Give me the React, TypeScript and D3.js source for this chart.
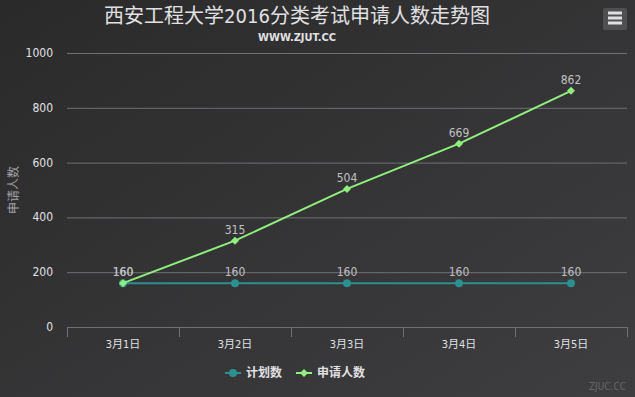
import React from 'react';
import * as d3 from 'd3';

const categories = ['3月1日', '3月2日', '3月3日', '3月4日', '3月5日'];
const planned = [160, 160, 160, 160, 160];
const applied = [160, 315, 504, 669, 862];
const yTicks = [0, 200, 400, 600, 800, 1000];

const W = 635;
const H = 397;
const margin = { left: 67, right: 8, top: 53, bottom: 70 };
const font = "'DejaVu Sans Condensed', 'Liberation Sans Narrow', 'Noto Sans CJK SC', sans-serif";

const App = () => {
  const x = d3
    .scaleBand()
    .domain(categories)
    .range([margin.left, W - margin.right]);
  const y = d3
    .scaleLinear()
    .domain([0, 1000])
    .range([H - margin.bottom, margin.top]);

  const px = (i) => x(categories[i]) + x.bandwidth() / 2;
  const line = d3
    .line<number>()
    .x((d, i) => px(i))
    .y((d) => y(d));

  // highcharts style diamond: a square turned 45 degrees
  const diamond = d3.symbol().type(d3.symbolSquare).size(32)();

  const series = [
    { name: '计划数', data: planned, color: '#2b908f', marker: 'circle' },
    { name: '申请人数', data: applied, color: '#90ee7e', marker: 'diamond' },
  ];

  const ticksX = [...categories.map((c) => x(c)), W - margin.right];

  return (
    <div style={{ position: 'fixed', left: 0, top: 0 }}>
      <svg width={W} height={H} style={{ display: 'block', fontFamily: font, fontStretch: 'condensed' }}>
        <defs>
          <linearGradient id="bg" x1="0" y1="0" x2="1" y2="1">
            <stop offset="0" stopColor="#2a2a2b" />
            <stop offset="1" stopColor="#3e3e40" />
          </linearGradient>
        </defs>
        <rect x={0} y={0} width={W} height={H} fill="url(#bg)" />

        {/* title */}
        <text x={297} y={23} textAnchor="middle" fill="#E0E0E3" fontSize={20}>
          西安工程大学2016分类考试申请人数走势图
        </text>
        <text x={297} y={41} textAnchor="middle" fill="#E0E0E3" fontSize={11} fontWeight="bold">
          WWW.ZJUT.CC
        </text>

        {/* menu button */}
        <rect x={603} y={8} width={24} height={22} rx={2} fill="#505053" />
        {[14, 19, 24].map((yy) => (
          <line key={yy} x1={608} x2={622} y1={yy - 1} y2={yy - 1} stroke="#E0E0E3" strokeWidth={3} />
        ))}

        {/* grid */}
        {yTicks.map((t) => (
          <g key={t}>
            <line x1={margin.left} x2={W - margin.right} y1={y(t) + 0.5} y2={y(t) + 0.5} stroke="#707073" strokeWidth={1} />
            <text x={53} y={y(t) + 4} textAnchor="end" fill="#E0E0E3" fontSize={12}>
              {t}
            </text>
          </g>
        ))}
        <text
          transform={`translate(18,${(y(0) + y(1000)) / 2}) rotate(-90)`}
          textAnchor="middle"
          fill="#A0A0A3"
          fontSize={12}
        >
          申请人数
        </text>

        {/* x axis */}
        <line x1={margin.left} x2={W - margin.right} y1={y(0) + 0.5} y2={y(0) + 0.5} stroke="#707073" />
        {ticksX.map((tx, i) => (
          <line key={i} x1={tx + 0.5} x2={tx + 0.5} y1={y(0)} y2={y(0) + 10} stroke="#707073" />
        ))}
        {categories.map((c, i) => (
          <text key={c} x={px(i)} y={348} textAnchor="middle" fill="#E0E0E3" fontSize={11}>
            {c}
          </text>
        ))}

        {/* series */}
        {series.map((s) => (
          <g key={s.name}>
            <path d={line(s.data)} fill="none" stroke={s.color} strokeWidth={2} />
            {s.data.map((v, i) =>
              s.marker === 'circle' ? (
                <circle key={i} cx={px(i)} cy={y(v)} r={4} fill={s.color} />
              ) : (
                <path key={i} d={diamond} transform={`translate(${px(i)},${y(v)}) rotate(45)`} fill={s.color} />
              )
            )}
            {s.data.map((v, i) => (
              <text
                key={'l' + i}
                x={px(i)}
                y={y(v) - 7}
                textAnchor="middle"
                fill="#C0C0C3"
                fontSize={12}
              >
                {v}
              </text>
            ))}
          </g>
        ))}

        {/* legend */}
        {series.map((s, i) => {
          const lx = i === 0 ? 225 : 296;
          return (
            <g key={s.name}>
              <line x1={lx} x2={lx + 16} y1={373} y2={373} stroke={s.color} strokeWidth={2} />
              {s.marker === 'circle' ? (
                <circle cx={lx + 8} cy={373} r={4} fill={s.color} />
              ) : (
                <path d={diamond} transform={`translate(${lx + 8},373) rotate(45)`} fill={s.color} />
              )}
              <text x={lx + 21} y={377} fill="#E0E0E3" fontSize={12} fontWeight="bold">
                {s.name}
              </text>
            </g>
          );
        })}

        <text x={626} y={390} textAnchor="end" fill="#666" fontSize={10}>
          ZJUC.CC
        </text>
      </svg>
    </div>
  );
};

export default App;
